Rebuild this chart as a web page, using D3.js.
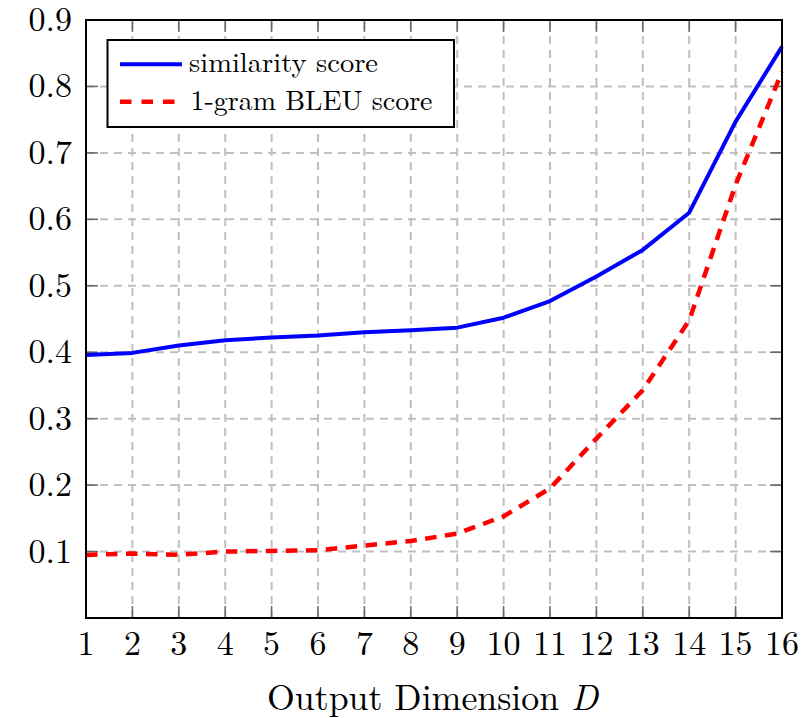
<!DOCTYPE html>
<html><head><meta charset="utf-8">
<script src="https://cdn.jsdelivr.net/npm/d3@7"></script>
<style>body{margin:0;background:#fff}svg{display:block}</style>
</head><body>
<script>
const dims = [1,2,3,4,5,6,7,8,9,10,11,12,13,14,15,16];
const similarity = [0.396,0.399,0.410,0.418,0.422,0.425,0.430,0.433,0.437,0.452,0.477,0.514,0.554,0.610,0.747,0.860];
const bleu1 = [0.095,0.097,0.095,0.100,0.101,0.102,0.109,0.116,0.127,0.153,0.195,0.270,0.343,0.448,0.652,0.822];
const yTicks = [0.1,0.2,0.3,0.4,0.5,0.6,0.7,0.8,0.9];
const seriesNames = ["similarity score","1-gram BLEU score"];
const xTitle = "Output Dimension ";
const xTitleVar = "D";

const W=807,H=718;
const L=86,R=782,T=20,B=618;
const svg=d3.select("body").append("svg").attr("width",W).attr("height",H);
const x=d3.scaleLinear().domain([1,16]).range([L,R]);
const y=d3.scaleLinear().domain([0,0.9]).range([B,T]);
const font="'Latin Modern Roman','CMU Serif','Liberation Serif',serif";

// grid
const g=svg.append("g");
g.selectAll(".vg").data(dims).join("line")
 .attr("x1",d=>x(d)).attr("x2",d=>x(d)).attr("y1",B).attr("y2",T)
 .attr("stroke","#c0c0c0").attr("stroke-width",2).attr("stroke-dasharray","8,6");
g.selectAll(".hg").data(yTicks).join("line")
 .attr("x1",L).attr("x2",R).attr("y1",d=>y(d)).attr("y2",d=>y(d))
 .attr("stroke","#c0c0c0").attr("stroke-width",2).attr("stroke-dasharray","8,6");

// ticks (inward, mirrored)
const tk=12, tc="#666";
const ticks=svg.append("g").attr("stroke",tc).attr("stroke-width",1.5);
dims.forEach(d=>{
  ticks.append("line").attr("x1",x(d)).attr("x2",x(d)).attr("y1",B).attr("y2",B-tk);
  ticks.append("line").attr("x1",x(d)).attr("x2",x(d)).attr("y1",T).attr("y2",T+tk);
});
yTicks.forEach(d=>{
  ticks.append("line").attr("x1",L).attr("x2",L+tk).attr("y1",y(d)).attr("y2",y(d));
  ticks.append("line").attr("x1",R).attr("x2",R-tk).attr("y1",y(d)).attr("y2",y(d));
});

// lines
const line=d3.line().x((d,i)=>x(dims[i])).y(d=>y(d));
svg.append("path").datum(similarity).attr("d",line).attr("fill","none")
 .attr("stroke","#0000ff").attr("stroke-width",4).attr("stroke-linejoin","round");
svg.append("path").datum(bleu1).attr("d",line).attr("fill","none")
 .attr("stroke","#ff0000").attr("stroke-width",4.5).attr("stroke-dasharray","11.5,8.5");

// frame
svg.append("rect").attr("x",L).attr("y",T).attr("width",R-L).attr("height",B-T)
 .attr("fill","none").attr("stroke","#000").attr("stroke-width",2);

// tick labels
svg.selectAll(".xl").data(dims).join("text")
 .attr("x",d=>x(d)).attr("y",655).attr("text-anchor","middle")
 .attr("font-family",font).attr("font-size",34).attr("fill","#000").text(d=>d);
svg.selectAll(".yl").data(yTicks).join("text")
 .attr("x",72).attr("y",d=>y(d)+11).attr("text-anchor","end")
 .attr("font-family",font).attr("font-size",34).attr("fill","#000").text(d=>d3.format(".1f")(d));

// x title
const xt=svg.append("text").attr("x",267).attr("y",710)
 .attr("font-family",font).attr("font-size",36).attr("fill","#000")
 .attr("textLength",331).attr("lengthAdjust","spacingAndGlyphs");
xt.append("tspan").text(xTitle);
xt.append("tspan").attr("font-style","italic").text(xTitleVar);

// legend
svg.append("rect").attr("x",107.5).attr("y",40).attr("width",346.5).attr("height",87)
 .attr("fill","#fff").attr("stroke","#000").attr("stroke-width",2);
svg.append("line").attr("x1",120).attr("x2",182).attr("y1",64.3).attr("y2",64.3)
 .attr("stroke","#0000ff").attr("stroke-width",4);
svg.append("line").attr("x1",120).attr("x2",182).attr("y1",101.7).attr("y2",101.7)
 .attr("stroke","#ff0000").attr("stroke-width",4.5).attr("stroke-dasharray","11.5,10");
svg.append("text").attr("x",189).attr("y",72).attr("font-family",font).attr("font-size",28)
 .attr("fill","#000").attr("textLength",189).attr("lengthAdjust","spacingAndGlyphs").text(seriesNames[0]);
svg.append("text").attr("x",190.5).attr("y",109.5).attr("font-family",font).attr("font-size",28)
 .attr("fill","#000").attr("textLength",242).attr("lengthAdjust","spacingAndGlyphs").text(seriesNames[1]);
</script>
</body></html>
